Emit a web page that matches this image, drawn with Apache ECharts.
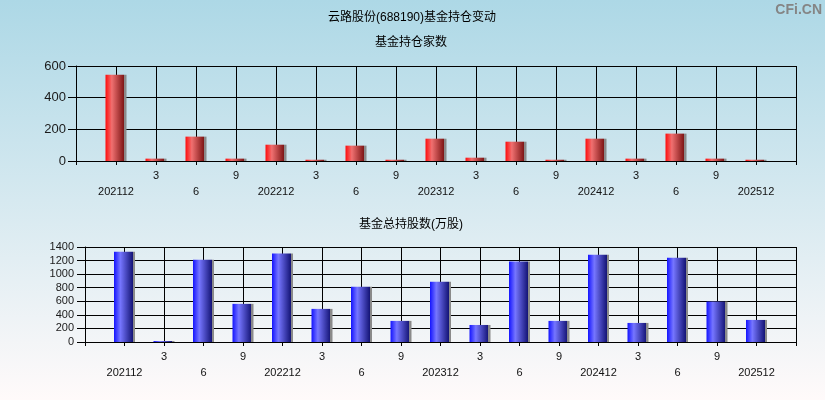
<!DOCTYPE html>
<html>
<head>
<meta charset="utf-8">
<script src="https://cdn.jsdelivr.net/npm/echarts@6/dist/echarts.min.js"></script>
<style>
html,body{margin:0;padding:0;}
#main{width:825px;height:400px;}
</style>
</head>
<body>
<div id="main"></div>
<script>
// Periods (quarter ends), padded with empty slots at both ends of the axis
const periods = ['202112','202203','202206','202209','202212','202303','202306','202309','202312','202403','202406','202409','202412','202503','202506','202509','202512'];
const tickLabels = ['202112','3','6','9','202212','3','6','9','202312','3','6','9','202412','3','6','9','202512'];
const fundCount = [545, 15, 154, 15, 103, 8, 97, 8, 141, 21, 122, 8, 141, 15, 173, 15, 8];
const fundShares = [1331, 15, 1213, 562, 1306, 488, 813, 311, 887, 251, 1188, 311, 1287, 281, 1242, 596, 325];
const topTicks = [0, 200, 400, 600];
const bottomTicks = [0, 200, 400, 600, 800, 1000, 1200, 1400];

const axisCats = ['__s'].concat(periods).concat(['__e']);
const labelMap = {};
periods.forEach((p, i) => { labelMap[p] = tickLabels[i]; });
const pad = arr => [null].concat(arr).concat([null]);

const FONT = "'Liberation Sans','Noto Sans CJK SC',sans-serif";

function xLabel(v) {
  const t = labelMap[v];
  if (t === undefined) return '';
  if (t === '3' || t === '9') return t + '\n ';
  return ' \n' + t;
}

function grad(c0, c1, c2) {
  return {
    type: 'linear', x: 0, y: 0, x2: 1, y2: 0,
    colorStops: [
      {offset: 0, color: c0},
      {offset: 0.3, color: c1},
      {offset: 0.9, color: c2},
      {offset: 0.9, color: '#8a8a8a'},
      {offset: 1, color: '#8a8a8a'}
    ]
  };
}

function xAxisCfg(gi) {
  return {
    type: 'category', gridIndex: gi, data: axisCats, boundaryGap: false,
    axisLine: {show: true, lineStyle: {color: '#000', width: 1}},
    axisTick: {show: true, interval: 0, length: 4, lineStyle: {color: '#000'}},
    axisLabel: {interval: 0, margin: 7, formatter: xLabel, color: '#111', fontSize: 11, lineHeight: 16, fontFamily: FONT, hideOverlap: false},
    splitLine: {show: true, interval: 0, lineStyle: {color: '#000', width: 1}}
  };
}
function yAxisCfg(gi, ticks, fs, margin) {
  return {
    type: 'value', gridIndex: gi, min: ticks[0], max: ticks[ticks.length - 1],
    interval: ticks[1] - ticks[0],
    axisLine: {show: true, lineStyle: {color: '#000', width: 1}},
    axisTick: {show: true, length: 8, lineStyle: {color: '#000'}},
    axisLabel: {margin: margin, color: '#1a1a1a', fontSize: fs, fontFamily: FONT, formatter: v => String(v)},
    splitLine: {show: true, lineStyle: {color: '#000', width: 1}}
  };
}

const chart = echarts.init(document.getElementById('main'));
chart.setOption({
  animation: false,
  backgroundColor: {
    type: 'linear', x: 0, y: 0, x2: 0, y2: 1,
    colorStops: [{offset: 0, color: '#add8e6'}, {offset: 1, color: '#fffafa'}]
  },
  graphic: [
    {type: 'text', x: 412, y: 18, style: {text: '云路股份(688190)基金持仓变动', font: "12px " + FONT, fill: '#000', textAlign: 'center', textVerticalAlign: 'middle'}},
    {type: 'text', x: 411, y: 43, style: {text: '基金持仓家数', font: "12px " + FONT, fill: '#000', textAlign: 'center', textVerticalAlign: 'middle'}},
    {type: 'text', x: 411, y: 225, style: {text: '基金总持股数(万股)', font: "12px " + FONT, fill: '#000', textAlign: 'center', textVerticalAlign: 'middle'}},
    {type: 'text', x: 822, y: 10, style: {text: 'CFi.CN', font: "bold 14px 'Liberation Sans',sans-serif", fill: '#858585', textAlign: 'right', textVerticalAlign: 'middle'}}
  ],
  grid: [
    {left: 76, right: 29, top: 66, height: 95},
    {left: 85, right: 29, top: 247, height: 95}
  ],
  xAxis: [xAxisCfg(0), xAxisCfg(1)],
  yAxis: [yAxisCfg(0, topTicks, 13, 10), yAxisCfg(1, bottomTicks, 11, 11)],
  series: [
    {type: 'bar', xAxisIndex: 0, yAxisIndex: 0, data: pad(fundCount), barWidth: 21,
     itemStyle: {color: grad('#ff0c0c', '#f07070', '#7a1212')}},
    {type: 'bar', xAxisIndex: 1, yAxisIndex: 1, data: pad(fundShares), barWidth: 21,
     itemStyle: {color: grad('#1414ff', '#7676ff', '#141476')}}
  ]
});
</script>
</body>
</html>
